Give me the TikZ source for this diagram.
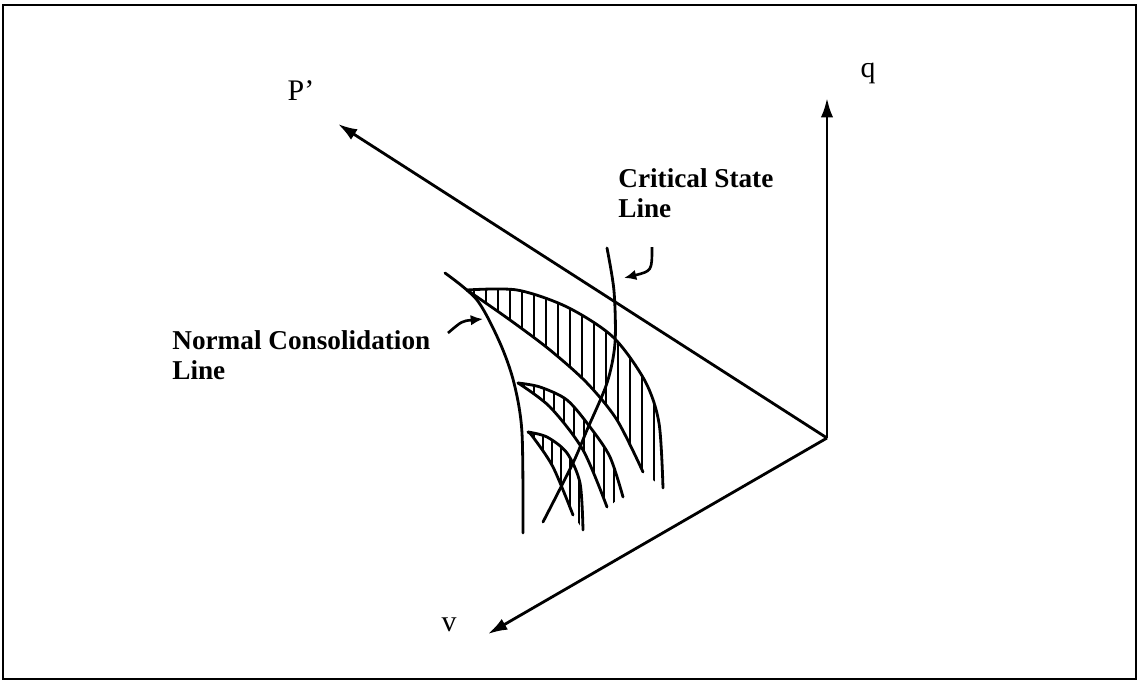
\documentclass[tikz,border=0pt]{standalone}
\usepackage{fontspec}
\setmainfont{Liberation Serif}
\usetikzlibrary{arrows.meta}

\begin{document}
\begin{tikzpicture}[
  x=0.02cm, y=0.02cm,
  axis/.style={-{Latex[length=11pt, width=7pt]}, line width=1.6pt},
  curve/.style={line width=1.6pt, line cap=round, line join=round},
  hatch/.style={line width=1.2pt},
  pointer/.style={-{Latex[length=7pt, width=6pt]}, line width=1.5pt},
  lbl/.style={font=\fontsize{15.5}{17}\selectfont\bfseries, align=left, inner sep=0pt},
  axlbl/.style={font=\fontsize{17}{20}\selectfont, inner sep=0pt},
]

\useasboundingbox (0,0) rectangle (1140,681);
\draw[line width=1.3pt] (3,2) rectangle (1136,676);

% 坐标轴
\coordinate (O) at (827,243);
\coordinate (Qtip) at (827,583);
\coordinate (Ptip) at (338,557);
\coordinate (Vtip) at (488,47);
\draw[axis] (O) -- (Qtip);
\draw[axis] (O) -- (Ptip);
\draw[axis] (O) -- (Vtip);
\node[axlbl] (qlbl) at (868,608) {q};
\node[axlbl] (plbl) at (301,590) {P'};
\node[axlbl] (vlbl) at (449,56) {v};

% 阴影带 (竖线填充)
\begin{scope}
  \clip plot[smooth] coordinates {(467,391) (517,391) (567,374) (613,344) (645,300) (659,258) (663,193)}
    -- plot[smooth] coordinates {(643,209) (617,261) (587,298) (550,331) (510,361) (467,391)} -- cycle;
  \foreach \x in {474,486,...,670} \draw[hatch] (\x,150) -- (\x,400);
\end{scope}
\begin{scope}
  \clip plot[smooth] coordinates {(518,298) (540,294) (567,281) (590,254) (610,224) (623,184)}
    -- plot[smooth] coordinates {(607,174) (583,231) (550,274) (518,298)} -- cycle;
  \foreach \x in {524,534,...,630} \draw[hatch] (\x,150) -- (\x,310);
\end{scope}
\begin{scope}
  \clip plot[smooth] coordinates {(528,249) (547,244) (567,228) (580,198) (583,151)}
    -- plot[smooth] coordinates {(573,166) (553,214) (533,244) (528,249)} -- cycle;
  \foreach \x in {534,543,...,590} \draw[hatch] (\x,140) -- (\x,260);
\end{scope}

% 屈服曲线
\draw[curve] plot[smooth] coordinates {(467,391) (517,391) (567,374) (613,344) (645,300) (659,258) (663,193)};
\draw[curve] plot[smooth] coordinates {(467,391) (510,361) (550,331) (587,298) (617,261) (643,209)};
\draw[curve] plot[smooth] coordinates {(518,298) (540,294) (567,281) (590,254) (610,224) (623,184)};
\draw[curve] plot[smooth] coordinates {(518,298) (550,274) (583,231) (607,174)};
\draw[curve] plot[smooth] coordinates {(528,249) (547,244) (567,228) (580,198) (583,151)};
\draw[curve] plot[smooth] coordinates {(528,249) (533,244) (553,214) (573,166)};

% 正常固结线
\draw[curve] plot[smooth] coordinates {(445,408) (477,381) (500,338) (514,298) (522,248) (523,148)};

% 临界状态线
\draw[curve] plot[smooth] coordinates {(607,433) (614,390) (615,338) (607,298) (587,251) (573,218) (543,159)};

% 标注
\node[lbl, anchor=north west] (csl) at (618,513) {Critical State\\Line};
\node[lbl, anchor=north west] (ncl) at (172,351) {Normal Consolidation\\Line};

\coordinate (cslA) at (652,434);
\coordinate (cslB) at (624,403);
\draw[pointer] (cslA) .. controls (652,410) .. (cslB);
\coordinate (nclA) at (448,348);
\coordinate (nclB) at (483,362);
\draw[pointer] (nclA) .. controls (462,360) .. (nclB);

\end{tikzpicture}
\end{document}
